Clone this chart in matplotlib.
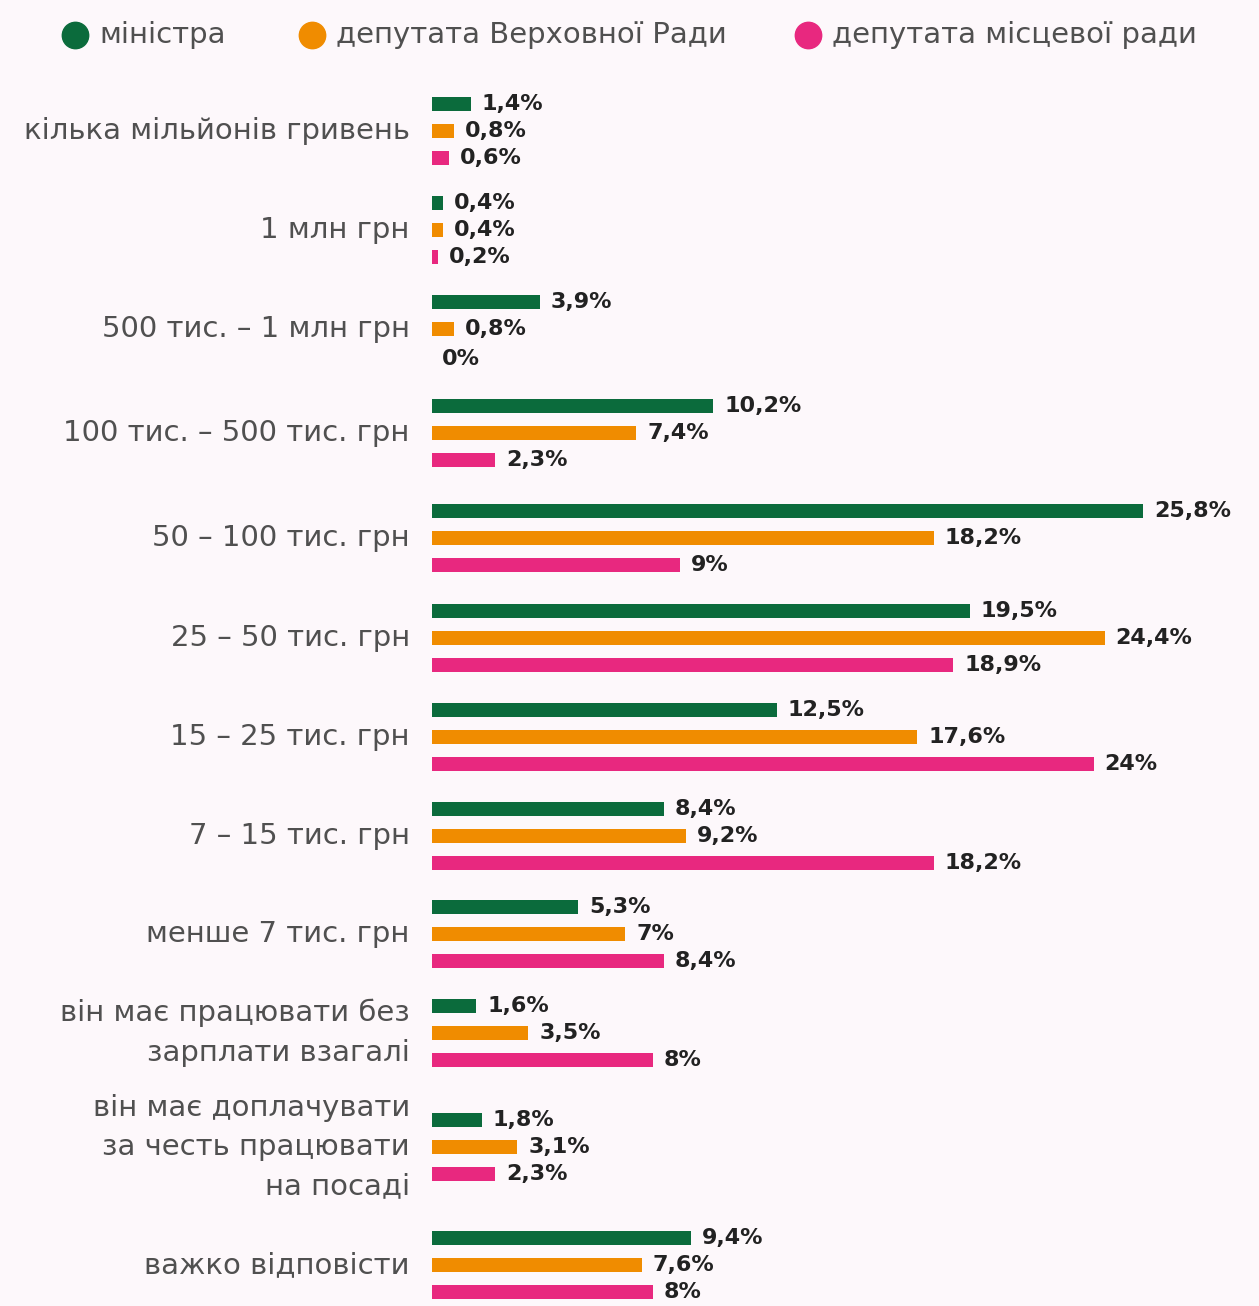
import matplotlib
matplotlib.use('Agg')
import matplotlib.pyplot as plt
from matplotlib.lines import Line2D

plt.rcParams['font.family'] = ['DejaVu Sans']

categories = ['кілька мільйонів гривень', '1 млн грн', '500 тис. – 1 млн грн',
              '100 тис. – 500 тис. грн', '50 – 100 тис. грн', '25 – 50 тис. грн',
              '15 – 25 тис. грн', '7 – 15 тис. грн', 'менше 7 тис. грн',
              'він має працювати без\nзарплати взагалі',
              'він має доплачувати\nза честь працювати\nна посаді',
              'важко відповісти']
series_names = ['міністра', 'депутата Верховної Ради', 'депутата місцевої ради']
minister = [1.4, 0.4, 3.9, 10.2, 25.8, 19.5, 12.5, 8.4, 5.3, 1.6, 1.8, 9.4]
rada = [0.8, 0.4, 0.8, 7.4, 18.2, 24.4, 17.6, 9.2, 7.0, 3.5, 3.1, 7.6]
local = [0.6, 0.2, 0.0, 2.3, 9.0, 18.9, 24.0, 18.2, 8.4, 8.0, 2.3, 8.0]

colors = ['#0b6b3c', '#f08c00', '#e8287f']
bg = '#fdf8fb'

# layout: group centres in pixel rows (multi-line labels need more room)
centers = [131, 230, 329, 433, 538, 638, 737, 836, 934, 1033, 1147, 1265]
offsets = [-27, 0, 27]

W, H = 1259, 1306
fig = plt.figure(figsize=(W / 100, H / 100), dpi=100, facecolor=bg)
ax = fig.add_axes([432 / W, 0, 827 / W, 1])
ax.set_facecolor(bg)
ax.set_xlim(0, 30)
ax.set_ylim(H, 0)

def fmt(v):
    s = ('%.1f' % v).rstrip('0').rstrip('.')
    return s.replace('.', ',') + '%'

for vals, off, c in zip([minister, rada, local], offsets, colors):
    ys = [y + off for y in centers]
    ax.barh(ys, vals, height=14, color=c, left=0)
    for y, v in zip(ys, vals):
        ax.annotate(fmt(v), (v, y), xytext=(8 if v > 0 else 7, 0 if v > 0 else -2),
                    textcoords='offset points', va='center', ha='left',
                    fontsize=16, fontweight='bold', color='#222222')

for y, lab in zip(centers, categories):
    ax.annotate(lab, (0, y), xytext=(-16, 0), textcoords='offset points',
                ha='right', va='center', fontsize=21, color='#505050',
                linespacing=1.52, annotation_clip=False)

ax.axis('off')

# legend
leg_x = [75, 312, 808]
for x, name, c in zip(leg_x, series_names, colors):
    fig.add_artist(Line2D([x / W], [1 - 35 / H], marker='o', markersize=19,
                          color=c, linestyle='none', transform=fig.transFigure))
    fig.text((x + 24) / W, 1 - 35 / H, name, fontsize=21, color='#505050',
             ha='left', va='center')

fig.savefig('out.png', dpi=100, facecolor=bg)
